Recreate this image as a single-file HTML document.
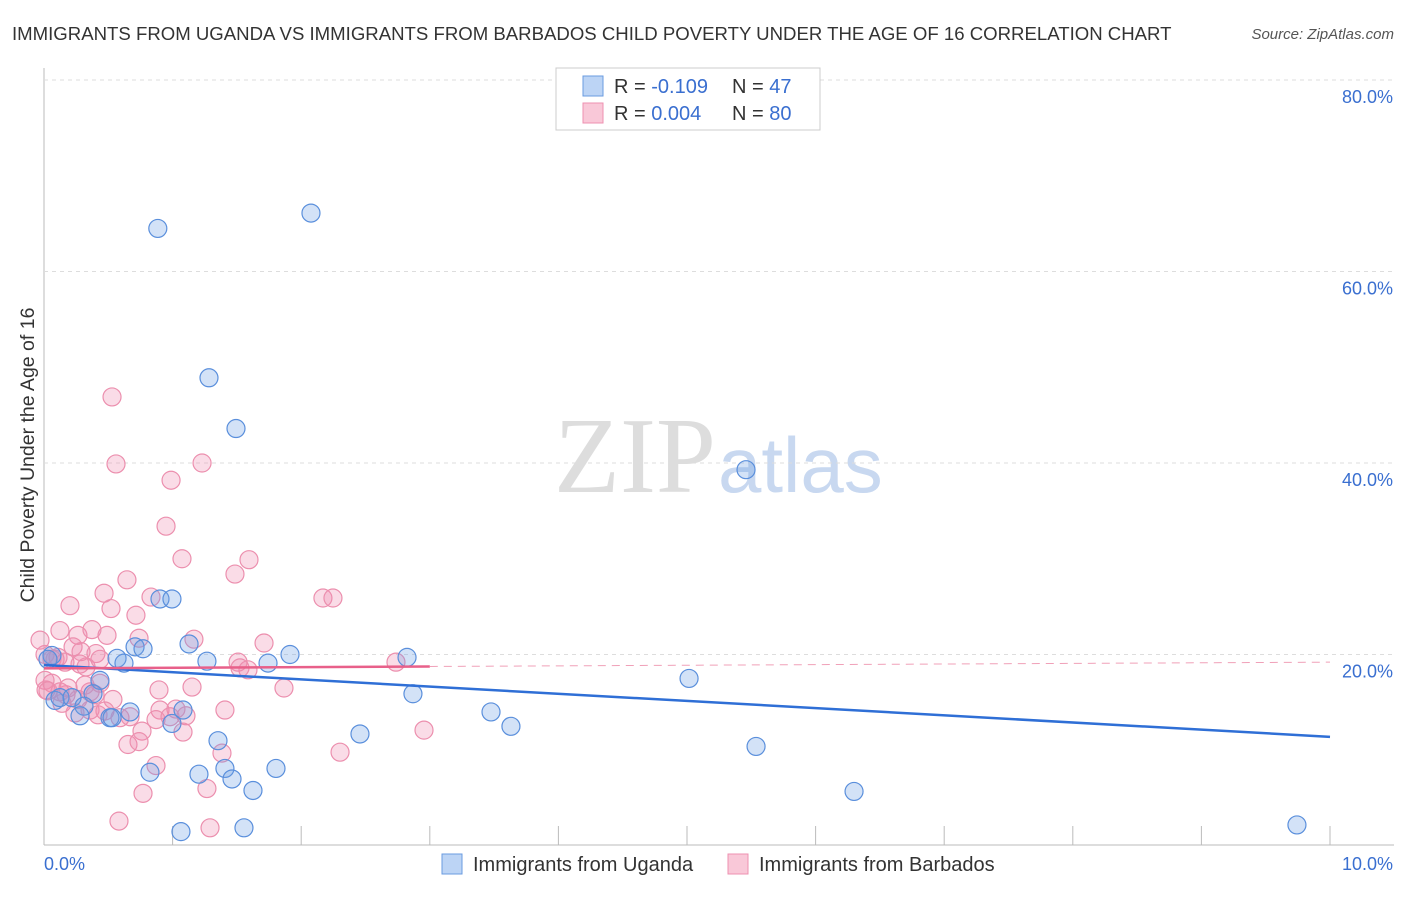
<!DOCTYPE html>
<html><head><meta charset="utf-8"><style>
body{margin:0;background:#fff;font-family:"Liberation Sans",sans-serif;}
</style></head><body>
<svg id="c" width="1406" height="892" xmlns="http://www.w3.org/2000/svg">
<text x="12" y="40" font-size="18.6" fill="#333">IMMIGRANTS FROM UGANDA VS IMMIGRANTS FROM BARBADOS CHILD POVERTY UNDER THE AGE OF 16 CORRELATION CHART</text>
<text x="1394" y="39" font-size="15" fill="#555" text-anchor="end" font-style="italic">Source: ZipAtlas.com</text>
<text x="34" y="455" font-size="19.5" fill="#333" text-anchor="middle" transform="rotate(-90 34 455)">Child Poverty Under the Age of 16</text>
<text x="716" y="492" font-size="108" fill="#ddd" text-anchor="end" font-family="Liberation Serif">ZIP</text>
<text x="718" y="492" font-size="78" fill="#c8d8f0">atlas</text>
<g id="grid"></g><g id="pts"></g><g id="lines"></g>
<g>
<rect x="556" y="68" width="264" height="62" fill="#fff" stroke="#ccc"/>
<rect x="583" y="76" width="20" height="20" fill="#bcd4f5" stroke="#6a9be0"/>
<rect x="583" y="103" width="20" height="20" fill="#f9c8d8" stroke="#ee90b0"/>
<text x="614" y="93" font-size="20" fill="#333">R = <tspan fill="#3a6fd0">-0.109</tspan><tspan x="732">N = </tspan><tspan fill="#3a6fd0">47</tspan></text>
<text x="614" y="120" font-size="20" fill="#333">R = <tspan fill="#3a6fd0"> 0.004</tspan><tspan x="732">N = </tspan><tspan fill="#3a6fd0">80</tspan></text>
</g>
<g>
<rect x="442" y="854" width="20" height="20" fill="#bcd4f5" stroke="#6a9be0"/>
<text x="473" y="871" font-size="20" fill="#333">Immigrants from Uganda</text>
<rect x="728" y="854" width="20" height="20" fill="#f9c8d8" stroke="#ee90b0"/>
<text x="759" y="871" font-size="20" fill="#333">Immigrants from Barbados</text>
</g>
<text x="44" y="870" font-size="18" fill="#3a6fd0">0.0%</text>
<text x="1393" y="870" font-size="18" fill="#3a6fd0" text-anchor="end">10.0%</text>
</svg>
<script>
const yTicks=[20,40,60,80];
const xTicks=[0,1,2,3,4,5,6,7,8,9,10];
const uX=[0.885,2.076,1.283,1.493,5.459,0.902,0.995,1.128,0.708,0.770,0.568,0.622,1.267,1.742,1.913,2.823,0.062,0.435,0.381,5.016,2.869,0.086,0.124,0.218,0.311,0.513,0.669,0.280,1.081,0.995,3.476,3.631,2.457,1.353,5.537,0.824,1.205,1.407,1.462,1.804,1.625,6.299,1.065,1.555,9.743,0.031,0.529];
const uY=[64.5,66.1,48.9,43.6,39.3,25.8,25.8,21.1,20.8,20.6,19.6,19.1,19.3,19.1,20.0,19.7,19.9,17.3,15.9,17.5,15.9,15.2,15.5,15.5,14.6,13.4,14.0,13.6,14.2,12.8,14.0,12.5,11.7,11.0,10.4,7.7,7.5,8.1,7.0,8.1,5.8,5.7,1.5,1.9,2.2,19.5,13.4];
const bX=[0.529,0.560,0.988,1.229,0.949,1.073,1.594,1.485,0.645,0.467,0.202,0.521,0.832,0.715,0.264,0.490,0.739,1.166,1.711,0.008,0.062,0.226,0.288,0.404,0.109,0.280,0.327,0.016,0.124,0.171,0.358,1.509,1.586,2.737,2.169,2.247,0.894,1.151,1.866,0.062,0.187,0.264,0.435,0.536,0.140,0.358,0.420,0.591,1.407,0.902,1.026,1.104,0.871,1.081,0.762,0.653,0.739,1.384,2.302,2.955,0.871,0.770,1.267,0.583,1.291,0.008,0.031,0.474,0.241,0.163,0.086,0.319,0.397,0.980,0.669,-0.031,0.124,0.373,0.435,1.524];
const bY=[46.9,39.9,38.2,40.0,33.4,30.0,29.9,28.4,27.8,26.4,25.1,24.8,26.0,24.1,22.0,22.0,21.7,21.6,21.2,20.0,19.5,20.8,20.3,20.1,19.7,19.0,18.7,16.3,16.1,15.8,16.1,19.2,18.4,19.2,25.9,25.9,16.3,16.6,16.5,17.0,16.5,15.3,17.0,15.3,14.9,14.2,13.7,13.4,14.2,14.2,14.3,13.6,13.2,11.9,12.0,10.6,10.9,9.7,9.8,12.1,8.4,5.5,6.0,2.6,1.9,17.3,16.2,14.1,13.9,19.2,19.5,16.8,15.8,13.5,13.5,21.5,22.5,22.6,19.5,18.6];
const X=v=>44+v*128.6, Y=v=>846-v*9.575;
const NS='http://www.w3.org/2000/svg';
function mk(t,a,p){const e=document.createElementNS(NS,t);for(const k in a)e.setAttribute(k,a[k]);p.appendChild(e);return e;}
const grid=document.getElementById('grid');
const ax=mk('line',{x1:44,y1:68,x2:44,y2:845,stroke:'#bbb'},grid);


const bx=mk('line',{x1:44,y1:845,x2:1394,y2:845,stroke:'#bbb'},grid);


yTicks.forEach(t=>{
 const l=mk('line',{x1:44,y1:Y(t),x2:1394,y2:Y(t),stroke:'#ddd','stroke-dasharray':'4 4'},grid);
 
 
 const tx=mk('text',{x:1393,y:Y(t)+23,'font-size':18,fill:'#3a6fd0','text-anchor':'end'},grid);
 tx.textContent=t.toFixed(1)+'%';
 
 
});
xTicks.forEach(t=>{
 const l=mk('line',{x1:X(t),y1:826,x2:X(t),y2:845,stroke:'#bbb'},grid);
 
 
});
const pts=document.getElementById('pts');
bX.forEach((x,i)=>{const c=mk('circle',{cx:X(x),cy:Y(bY[i]),r:9,fill:'rgba(240,140,175,0.3)',stroke:'#ec8fae','stroke-width':1.2},pts);
 
 });
uX.forEach((x,i)=>{const c=mk('circle',{cx:X(x),cy:Y(uY[i]),r:9,fill:'rgba(110,160,230,0.3)',stroke:'#5a8fdc','stroke-width':1.2},pts);
 
 });
const lg=document.getElementById('lines');
const l1=mk('line',{x1:X(0),y1:Y(18.9),x2:X(10),y2:Y(11.4),stroke:'#2f6fd6','stroke-width':2.5},lg);


const l2=mk('line',{x1:X(0),y1:Y(18.55),x2:X(3.0),y2:Y(18.75),stroke:'#e8608a','stroke-width':2.5},lg);


const l3=mk('line',{x1:X(3.0),y1:Y(18.75),x2:X(10),y2:Y(19.2),stroke:'#f0a0b8','stroke-width':1,'stroke-dasharray':'8 6'},lg);


</script>
</body></html>
